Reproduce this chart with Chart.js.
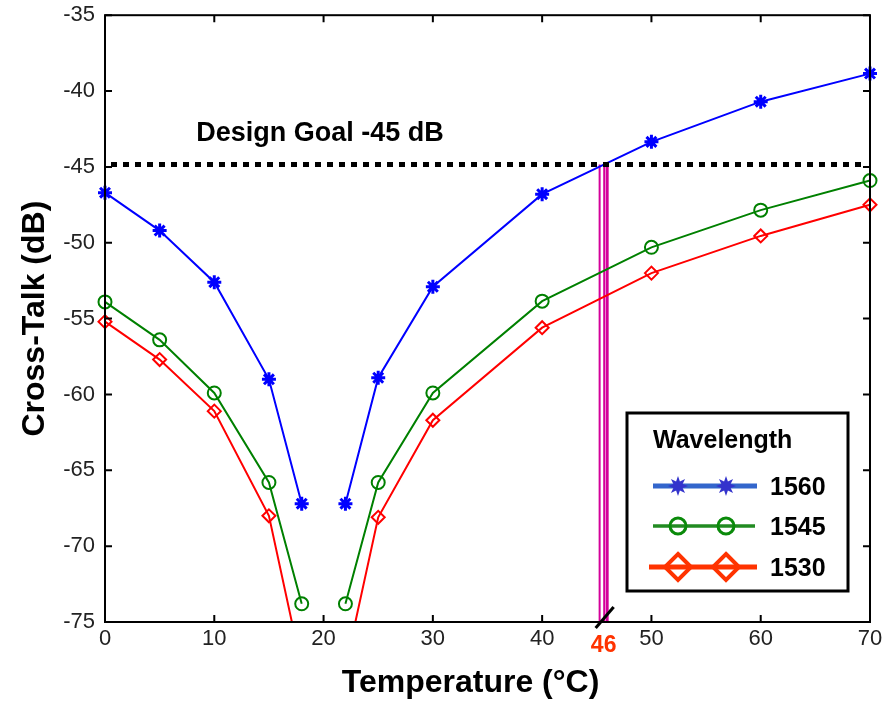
<!DOCTYPE html>
<html>
<head>
<meta charset="utf-8">
<script src="https://cdn.jsdelivr.net/npm/chart.js@4.4.1/dist/chart.umd.min.js"></script>
<style>
  html, body { margin: 0; padding: 0; background: #fff; }
  #wrap { width: 888px; height: 707px; position: relative; }
</style>
</head>
<body>
<div id="wrap"><canvas id="c" width="888" height="707"></canvas></div>
<script>
// ---- data ----
const temps   = [0, 5, 10, 15, 18, 20, 22, 25, 30, 40, 50, 60, 70];
const xt1560  = [-46.7, -49.2, -52.6, -59.0, -67.2, null, -67.2, -58.9, -52.9, -46.8, -43.35, -40.7, -38.85];
const xt1545  = [-53.9, -56.4, -59.9, -65.8, -73.8, null, -73.8, -65.8, -59.9, -53.85, -50.3, -47.85, -45.9];
const xt1530  = [-55.2, -57.7, -61.1, -68.0, -78.0, null, -78.0, -68.1, -61.7, -55.6, -52.0, -49.55, -47.5];
const seriesNames = ['1560', '1545', '1530'];
const legendTitle = 'Wavelength';
const goalDb = -44.85;
const goalText = 'Design Goal -45 dB';
const markerTemps = [45.26, 45.68, 45.95];
const markerLabel = '46';
const xTitle = 'Temperature (°C)';
const yTitle = 'Cross-Talk (dB)';

function pts(vals) { return temps.map((t, i) => ({ x: t, y: vals[i] })); }

const SANS = '"Liberation Sans", Arial, sans-serif';

const decor = {
  id: 'decor',
  beforeDatasetsDraw(chart) {
    const { ctx, chartArea: a, scales: { x, y } } = chart;
    ctx.save();
    const widths = [2, 2, 3];
    ctx.strokeStyle = '#d4009a';
    markerTemps.forEach((t, i) => {
      const px = x.getPixelForValue(t);
      ctx.lineWidth = widths[i];
      ctx.beginPath();
      ctx.moveTo(px, y.getPixelForValue(goalDb));
      ctx.lineTo(px, a.bottom);
      ctx.stroke();
    });
    ctx.restore();
  },
  afterDatasetsDraw(chart) {
    const { ctx, chartArea: a, scales: { x, y } } = chart;
    ctx.save();
    const gy = y.getPixelForValue(goalDb);
    ctx.strokeStyle = '#000';
    ctx.lineWidth = 5;
    ctx.setLineDash([6, 6]);
    ctx.beginPath();
    ctx.moveTo(a.left + 6, gy);
    ctx.lineTo(a.right - 4, gy);
    ctx.stroke();
    ctx.setLineDash([]);
    ctx.fillStyle = '#000';
    ctx.font = 'bold 27px ' + SANS;
    ctx.textBaseline = 'middle';
    ctx.textAlign = 'left';
    ctx.fillText(goalText, x.getPixelForValue(8.35), gy - 31);

    ctx.lineWidth = 2;
    ctx.strokeStyle = '#000';
    ctx.strokeRect(a.left, a.top, a.right - a.left, a.bottom - a.top);
    const tl = 7;
    ctx.beginPath();
    x.ticks.forEach(t => {
      const px = x.getPixelForValue(t.value);
      ctx.moveTo(px, a.bottom); ctx.lineTo(px, a.bottom - tl);
      ctx.moveTo(px, a.top); ctx.lineTo(px, a.top + tl);
    });
    y.ticks.forEach(t => {
      const py = y.getPixelForValue(t.value);
      ctx.moveTo(a.left, py); ctx.lineTo(a.left + tl, py);
      ctx.moveTo(a.right, py); ctx.lineTo(a.right - tl, py);
    });
    ctx.stroke();

    const sx = x.getPixelForValue(45.72);
    const sy = a.bottom - 4;
    ctx.lineWidth = 3;
    ctx.beginPath();
    ctx.moveTo(sx - 9, sy + 10);
    ctx.lineTo(sx + 9, sy - 11);
    ctx.stroke();
    ctx.fillStyle = '#ff3300';
    ctx.font = 'bold 23px ' + SANS;
    ctx.textAlign = 'center';
    ctx.fillText(markerLabel, sx - 1, a.bottom + 24);

    ctx.fillStyle = '#000';
    ctx.font = 'bold 32px ' + SANS;
    ctx.textAlign = 'center';
    ctx.fillText(xTitle, (a.left + a.right) / 2 - 17, 683);
    ctx.save();
    ctx.translate(35, (a.top + a.bottom) / 2);
    ctx.rotate(-Math.PI / 2);
    ctx.fillText(yTitle, 0, 0);
    ctx.restore();

    const bx = a.right - 243, by = a.bottom - 209, bw = 221, bh = 178;
    ctx.fillStyle = '#fff';
    ctx.fillRect(bx, by, bw, bh);
    ctx.lineWidth = 3;
    ctx.strokeStyle = '#000';
    ctx.strokeRect(bx, by, bw, bh);
    ctx.fillStyle = '#000';
    ctx.font = 'bold 25px ' + SANS;
    ctx.textAlign = 'left';
    ctx.fillText(legendTitle, bx + 26, by + 28);
    const rows = [
      { dy: 73, color: '#3366cc', lw: 5, x0: 26, x1: 130 },
      { dy: 113, color: '#228b22', lw: 3.5, x0: 26, x1: 128 },
      { dy: 154, color: '#ff3300', lw: 5, x0: 22, x1: 130 }
    ];
    rows.forEach((r, i) => {
      const ly = by + r.dy;
      ctx.strokeStyle = r.color;
      ctx.lineWidth = r.lw;
      ctx.beginPath();
      ctx.moveTo(bx + r.x0, ly);
      ctx.lineTo(bx + r.x1, ly);
      ctx.stroke();
      [51, 99].forEach(mx => {
        const cx = bx + mx;
        if (i === 0) {
          ctx.fillStyle = '#3333cc';
          ctx.beginPath();
          const n = 8, ro = 10, ri = 5;
          for (let k = 0; k < 2 * n; k++) {
            const ang = -Math.PI / 2 + k * Math.PI / n;
            const rr = k % 2 === 0 ? ro : ri;
            const px = cx + rr * Math.cos(ang), py = ly + rr * Math.sin(ang);
            k === 0 ? ctx.moveTo(px, py) : ctx.lineTo(px, py);
          }
          ctx.closePath();
          ctx.fill();
        } else if (i === 1) {
          ctx.strokeStyle = '#0a8a0a';
          ctx.lineWidth = 3;
          ctx.beginPath();
          ctx.arc(cx, ly, 8, 0, Math.PI * 2);
          ctx.stroke();
        } else {
          ctx.strokeStyle = '#ff3300';
          ctx.lineWidth = 4;
          ctx.beginPath();
          ctx.moveTo(cx, ly - 13); ctx.lineTo(cx + 13, ly);
          ctx.lineTo(cx, ly + 13); ctx.lineTo(cx - 13, ly);
          ctx.closePath();
          ctx.stroke();
        }
      });
      ctx.fillStyle = '#000';
      ctx.font = 'bold 25px ' + SANS;
      ctx.fillText(seriesNames[i], bx + 143, ly + 2);
    });
    ctx.restore();
  }
};

new Chart(document.getElementById('c'), {
  type: 'line',
  data: {
    datasets: [
      { label: seriesNames[0], data: pts(xt1560), borderColor: '#0000ff', backgroundColor: '#0000ff',
        borderWidth: 2, pointStyle: 'star', pointRadius: 7, pointBorderWidth: 3, pointBorderColor: '#0000ff' },
      { label: seriesNames[1], data: pts(xt1545), borderColor: '#008000', backgroundColor: 'transparent',
        borderWidth: 2, pointStyle: 'circle', pointRadius: 6.5, pointBorderWidth: 2, pointBorderColor: '#008000' },
      { label: seriesNames[2], data: pts(xt1530), borderColor: '#ff0000', backgroundColor: 'transparent',
        borderWidth: 2, pointStyle: 'rectRot', pointRadius: 6.5, pointBorderWidth: 2, pointBorderColor: '#ff0000' }
    ].map(d => Object.assign(d, { tension: 0, spanGaps: false, fill: false, clip: { left: 12, right: 12, top: 12, bottom: 0 } }))
  },
  options: {
    responsive: false,
    animation: false,
    events: [],
    layout: { padding: { top: 15, right: 18, left: 0, bottom: 0 } },
    plugins: { legend: { display: false }, tooltip: { enabled: false } },
    scales: {
      x: {
        type: 'linear', min: 0, max: 70,
        grid: { display: false }, border: { display: false },
        ticks: { stepSize: 10, padding: -4, color: '#222', font: { family: SANS, size: 22 } },
        afterFit(s) { s.height = 85; }
      },
      y: {
        type: 'linear', min: -75, max: -35,
        grid: { display: false }, border: { display: false },
        ticks: { stepSize: 5, padding: 2, color: '#222', font: { family: SANS, size: 22 } },
        afterFit(s) { s.width = 105; }
      }
    }
  },
  plugins: [decor]
});
</script>
</body>
</html>
